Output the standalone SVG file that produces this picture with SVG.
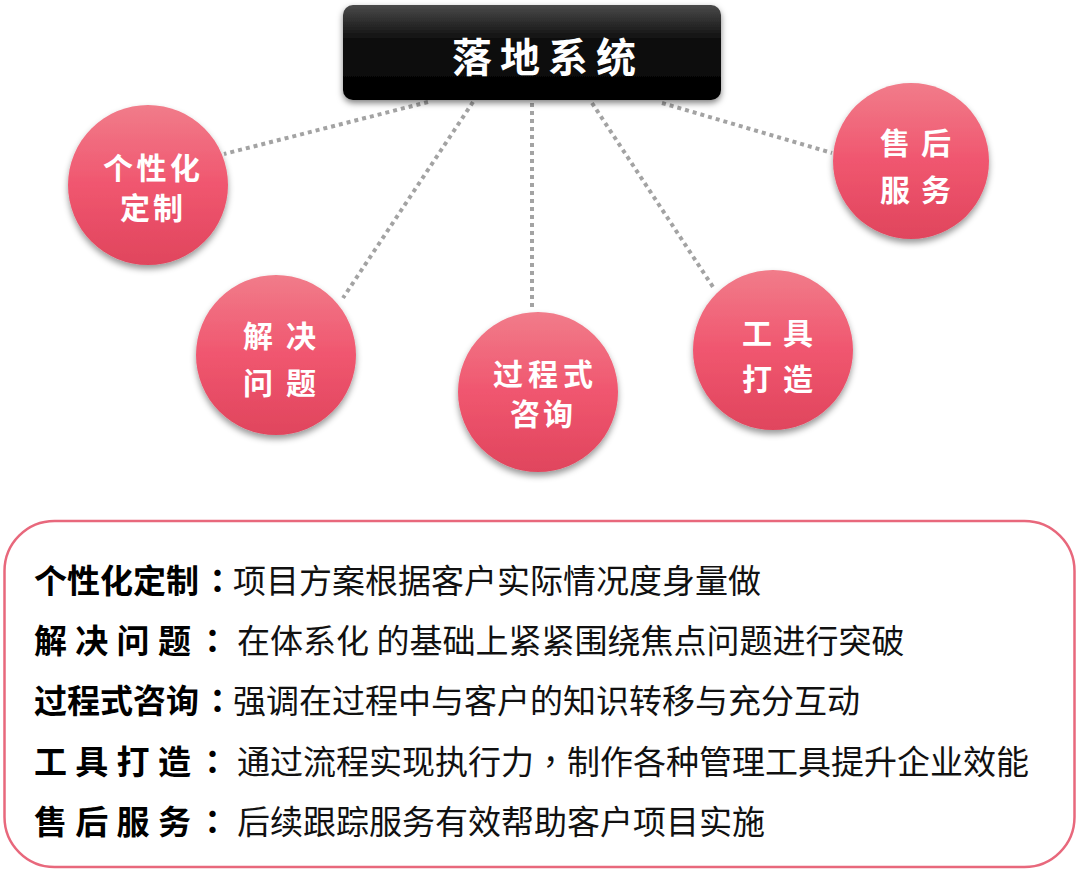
<svg xmlns="http://www.w3.org/2000/svg" width="1078" height="871" viewBox="0 0 1078 871">
  <defs>
    <linearGradient id="gBox" x1="0" y1="0" x2="0" y2="1">
      <stop offset="0" stop-color="#4a4a4a"/>
      <stop offset="0.35" stop-color="#111"/>
      <stop offset="1" stop-color="#000"/>
    </linearGradient>
    <linearGradient id="gCircle" x1="0" y1="0" x2="0" y2="1">
      <stop offset="0" stop-color="#F17C8A"/>
      <stop offset="0.5" stop-color="#F0566F"/>
      <stop offset="1" stop-color="#E0455D"/>
    </linearGradient>
    <filter id="shadow" x="-20%" y="-20%" width="140%" height="150%">
      <feDropShadow dx="0" dy="4" stdDeviation="3" flood-color="#000" flood-opacity="0.4"/>
    </filter>
    <filter id="boxShadow" x="-10%" y="-20%" width="120%" height="160%">
      <feDropShadow dx="0" dy="3" stdDeviation="3" flood-color="#000" flood-opacity="0.5"/>
    </filter>
  </defs>
  <style>
    .conn { stroke: #a3a3a3; stroke-width: 4; stroke-dasharray: 4 4; fill: none; }
    .circle { fill: url(#gCircle); filter: url(#shadow); }
    .ctext { font-family: "Noto Sans CJK SC", "Noto Sans", sans-serif; font-weight: 700; font-size: 30px; fill: #fff; }
    .label { font-family: "Noto Sans CJK SC", "Noto Sans", sans-serif; font-weight: 700; font-size: 33px; fill: #000; }
    .desc { font-family: "Noto Sans CJK SC", "Noto Sans", sans-serif; font-weight: 400; font-size: 33px; fill: #111; }
    .punct { font-family: "Noto Sans CJK TC", "Noto Sans CJK SC", sans-serif; }
  </style>
  <rect width="1078" height="871" fill="#fff"/>

  <g id="connectors">
    <line class="conn" x1="428" y1="102" x2="224" y2="154"/>
    <line class="conn" x1="473" y1="102" x2="343" y2="298"/>
    <line class="conn" x1="532" y1="103" x2="532" y2="307"/>
    <line class="conn" x1="592" y1="103" x2="715" y2="290"/>
    <line class="conn" x1="662" y1="103" x2="832" y2="153"/>
  </g>

  <g id="root">
    <rect x="343" y="5" width="378" height="95" rx="10" fill="url(#gBox)" filter="url(#boxShadow)"/>
    <text x="452" y="72" font-family="Noto Sans CJK SC, sans-serif" font-weight="700" font-size="40" letter-spacing="8" fill="#fff">落地系统</text>
  </g>

  <g id="node-customize">
    <circle class="circle" cx="148" cy="185" r="80"/>
    <text class="ctext" x="103" y="179" letter-spacing="3.5">个性化</text>
    <text class="ctext" x="120" y="219" letter-spacing="3">定制</text>
  </g>

  <g id="node-solve">
    <circle class="circle" cx="276" cy="355" r="80"/>
    <text class="ctext" x="243" y="347" letter-spacing="13">解决</text>
    <text class="ctext" x="243" y="394" letter-spacing="13">问题</text>
  </g>

  <g id="node-consult">
    <circle class="circle" cx="538" cy="392" r="80"/>
    <text class="ctext" x="493" y="385" letter-spacing="5">过程式</text>
    <text class="ctext" x="510" y="425" letter-spacing="3">咨询</text>
  </g>

  <g id="node-tools">
    <circle class="circle" cx="773" cy="350" r="80"/>
    <text class="ctext" x="742" y="344" letter-spacing="11">工具</text>
    <text class="ctext" x="742" y="390" letter-spacing="11">打造</text>
  </g>

  <g id="node-service">
    <circle class="circle" cx="911" cy="161" r="78"/>
    <text class="ctext" x="880" y="154" letter-spacing="11">售后</text>
    <text class="ctext" x="880" y="201" letter-spacing="11">服务</text>
  </g>

  <g id="legend">
    <rect x="4.5" y="521" width="1070" height="346" rx="50" fill="#fff" stroke="#E8687C" stroke-width="2.5"/>
    <text class="label" x="34" y="593">个性化定制<tspan class="punct" x="201">：</tspan></text>
    <text class="desc" x="233" y="593">项目方案根据客户实际情况度身量做</text>
    <text class="label" x="34" y="653" letter-spacing="8.3">解决问题<tspan class="punct" x="196">：</tspan></text>
    <text class="desc" x="237" y="653">在体系化 的基础上紧紧围绕焦点问题进行突破</text>
    <text class="label" x="34" y="713">过程式咨询<tspan class="punct" x="201">：</tspan></text>
    <text class="desc" x="233" y="713">强调在过程中与客户的知识转移与充分互动</text>
    <text class="label" x="34" y="774" letter-spacing="8.3">工具打造<tspan class="punct" x="196">：</tspan></text>
    <text class="desc" x="237" y="774">通过流程实现执行力<tspan class="punct">，</tspan>制作各种管理工具提升企业效能</text>
    <text class="label" x="34" y="834" letter-spacing="8.3">售后服务<tspan class="punct" x="196">：</tspan></text>
    <text class="desc" x="237" y="834">后续跟踪服务有效帮助客户项目实施</text>
  </g>
</svg>
